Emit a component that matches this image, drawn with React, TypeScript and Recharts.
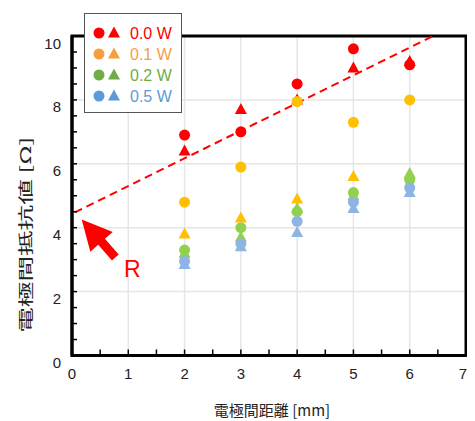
import React from 'react';
import {
  ScatterChart,
  Scatter,
  XAxis,
  YAxis,
  CartesianGrid,
  ReferenceLine,
  ReferenceArea,
  ReferenceDot,
} from 'recharts';

// ---- data ----
const distancesMm = [2, 3, 4, 5, 6];

const circles00W = [6.9, 7.0, 8.5, 9.6, 9.1];
const triangles00W = [6.4, 7.7, 8.0, 9.0, 9.2];
const circles01W = [4.8, 5.9, 7.95, 7.3, 8.0];
const triangles01W = [3.8, 4.3, 4.9, 5.6, 5.65];
const circles02W = [3.3, 4.0, 4.5, 5.1, 5.5];
const triangles02W = [3.2, 3.7, 4.6, 5.0, 5.7];
const circles05W = [2.95, 3.5, 4.2, 4.8, 5.25];
const triangles05W = [2.85, 3.4, 3.85, 4.6, 5.1];

const seriesLabels = ['0.0 W', '0.1 W', '0.2 W', '0.5 W'];
const markerColors = ['#FF0000', '#FFC000', '#92D050', '#8EB4E3'];
const legendColors = ['#FF0000', '#F79E3F', '#70AD47', '#5B9BD5'];

const xTicks = [0, 0.5, 1, 1.5, 2, 2.5, 3, 3.5, 4, 4.5, 5, 5.5, 6, 6.5, 7];
const yTicks = [0, 0.5, 1, 1.5, 2, 2.5, 3, 3.5, 4, 4.5, 5, 5.5, 6, 6.5, 7, 7.5, 8, 8.5, 9, 9.5, 10];
const xGrid = [1, 2, 3, 4, 5, 6];
const yGrid = [2, 4, 6, 8];
const xMax = 7;

const fitLine = [
  { x: 0.05, y: 4.48 },
  { x: 6.42, y: 10 },
];
const arrowSegment = [
  { x: 0.77, y: 3.07 },
  { x: 0.172, y: 4.26 },
];
const rLabelPos = { x: 1.07, y: 2.72, text: 'R' };

const xTitle = '電極間距離 [mm]';
const yTitle = '電極間抵抗値 [Ω]';

const toPoints = (vals: number[]) => distancesMm.map((d, i) => ({ x: d, y: vals[i] }));

const circleSets = [circles00W, circles01W, circles02W, circles05W];
const triangleSets = [triangles00W, triangles01W, triangles02W, triangles05W];

const NUM_FONT = '"Liberation Sans", Arial, Helvetica, sans-serif';
const CJK_FONT = '"Noto Sans CJK JP", "Noto Sans", sans-serif';

const makeCircle = (color: string) => (p: any) =>
  p.cx == null ? <g /> : <circle cx={p.cx} cy={p.cy} r={5.5} fill={color} />;

const makeTriangle = (color: string) => (p: any) =>
  p.cx == null ? (
    <g />
  ) : (
    <polygon
      points={`${p.cx},${p.cy - 6.5} ${p.cx - 6},${p.cy + 4.5} ${p.cx + 6},${p.cy + 4.5}`}
      fill={color}
    />
  );

const XTick = (p: any) => {
  const v = p.payload.value;
  const major = Number.isInteger(v);
  const last = v === xMax;
  return (
    <g>
      <line x1={p.x} x2={p.x} y1={p.y} y2={p.y - 6} stroke="#000" strokeWidth={1.5} />
      {major && (
        <text
          x={last ? p.x + 1 : p.x}
          y={p.y + 23}
          textAnchor={last ? 'end' : 'middle'}
          fontSize={15}
          fontFamily={NUM_FONT}
          fill="#222"
        >
          {v}
        </text>
      )}
    </g>
  );
};

const YTick = (p: any) => {
  const v = p.payload.value;
  const major = Number.isInteger(v) && v % 2 === 0;
  return (
    <g>
      <line x1={p.x} x2={p.x + 5} y1={p.y} y2={p.y} stroke="#000" strokeWidth={1.5} />
      {major && (
        <text x={p.x - 11} y={p.y + 12.5} textAnchor="end" fontSize={15} fontFamily={NUM_FONT} fill="#222">
          {v}
        </text>
      )}
    </g>
  );
};

const ArrowShape = (p: any) => {
  const { x1, y1, x2, y2 } = p;
  if ([x1, y1, x2, y2].some((v) => v == null || isNaN(v))) return <g />;
  const dx = x2 - x1;
  const dy = y2 - y1;
  const len = Math.sqrt(dx * dx + dy * dy);
  const ux = dx / len;
  const uy = dy / len;
  const nx = -uy;
  const ny = ux;
  const headLen = 30;
  const headHalf = 15;
  const shaftHalf = 4.5;
  const bx = x2 - ux * headLen;
  const by = y2 - uy * headLen;
  const pts = [
    [x1 + nx * shaftHalf, y1 + ny * shaftHalf],
    [bx + nx * shaftHalf, by + ny * shaftHalf],
    [bx + nx * headHalf, by + ny * headHalf],
    [x2, y2],
    [bx - nx * headHalf, by - ny * headHalf],
    [bx - nx * shaftHalf, by - ny * shaftHalf],
    [x1 - nx * shaftHalf, y1 - ny * shaftHalf],
  ]
    .map((q) => q.join(','))
    .join(' ');
  return <polygon points={pts} fill="#FF0000" />;
};

const RText = (p: any) =>
  p.cx == null ? (
    <g />
  ) : (
    <text x={p.cx} y={p.cy + 8.5} textAnchor="middle" fontSize={23} fontFamily={NUM_FONT} fill="#FF0000">
      {rLabelPos.text}
    </text>
  );

const XTitle = (p: any) => {
  const vb = p.viewBox || {};
  return (
    <text
      x={vb.x + vb.width / 2 + 3}
      y={vb.y + 60}
      textAnchor="middle"
      fontSize={15}
      fontFamily={CJK_FONT}
      fill="#222"
    >
      {xTitle}
    </text>
  );
};

const YTitle = (p: any) => {
  const vb = p.viewBox || {};
  const cx = vb.x - 8;
  const cy = vb.y + vb.height / 2 + 39;
  return (
    <text
      x={cx}
      y={cy}
      transform={`rotate(-90, ${cx}, ${cy})`}
      textAnchor="middle"
      dominantBaseline="central"
      fontSize={15}
      fontFamily={CJK_FONT}
      fill="#222"
      textLength={196}
      lengthAdjust="spacingAndGlyphs"
    >
      {yTitle}
    </text>
  );
};

const LegendBox = () => (
  <div
    style={{
      position: 'absolute',
      left: 76,
      top: 5,
      width: 98,
      height: 100,
      background: '#fff',
      border: '1px solid #555',
      boxSizing: 'border-box',
    }}
  >
    <svg width={96} height={98} style={{ display: 'block' }}>
      {seriesLabels.map((label, i) => {
        const cy = 19 + i * 21;
        const c = legendColors[i];
        return (
          <g key={label}>
            <circle cx={14} cy={cy} r={5.5} fill={c} />
            <polygon points={`${29},${cy - 6.5} ${23},${cy + 4.5} ${35},${cy + 4.5}`} fill={c} />
            <text x={45} y={cy + 6} fontSize={16} fontFamily={NUM_FONT} fill={c}>
              {label}
            </text>
          </g>
        );
      })}
    </svg>
  </div>
);

export default function App() {
  return (
    <div style={{ position: 'relative', width: 467, height: 413 }}>
      <ScatterChart width={467} height={413} margin={{ top: 28, right: 9, left: 24, bottom: 15.5 }}>
        <CartesianGrid
          stroke="#E6E6E6"
          strokeWidth={1.5}
          verticalValues={xGrid}
          horizontalValues={yGrid}
        />
        <XAxis
          type="number"
          dataKey="x"
          domain={[0, xMax]}
          ticks={xTicks}
          interval={0}
          allowDataOverflow
          height={50}
          tickSize={0}
          tickMargin={0}
          tickLine={false}
          axisLine={{ stroke: '#000', strokeWidth: 3 }}
          tick={<XTick />}
          label={<XTitle />}
        />
        <YAxis
          type="number"
          dataKey="y"
          domain={[0, 10]}
          ticks={yTicks}
          interval={0}
          allowDataOverflow
          width={40}
          tickSize={0}
          tickMargin={0}
          tickLine={false}
          axisLine={{ stroke: '#000', strokeWidth: 3 }}
          tick={<YTick />}
          label={<YTitle />}
        />
        <ReferenceArea x1={0} x2={xMax} y1={0} y2={10} fill="none" stroke="#000" strokeWidth={3} ifOverflow="visible" />
        {triangleSets.map((vals, i) => (
          <Scatter
            key={'t' + i}
            name={seriesLabels[i] + ' tri'}
            data={toPoints(vals)}
            shape={makeTriangle(markerColors[i])}
            isAnimationActive={false}
          />
        ))}
        {circleSets.map((vals, i) => (
          <Scatter
            key={'c' + i}
            name={seriesLabels[i]}
            data={toPoints(vals)}
            shape={makeCircle(markerColors[i])}
            isAnimationActive={false}
          />
        ))}
        <ReferenceLine
          segment={fitLine}
          stroke="#FF0000"
          strokeWidth={2}
          strokeDasharray="8 5"
          ifOverflow="visible"
        />
        <ReferenceLine segment={arrowSegment} shape={<ArrowShape />} ifOverflow="visible" />
        <ReferenceDot x={rLabelPos.x} y={rLabelPos.y} r={0} shape={<RText />} ifOverflow="visible" />
      </ScatterChart>
      <LegendBox />
    </div>
  );
}
